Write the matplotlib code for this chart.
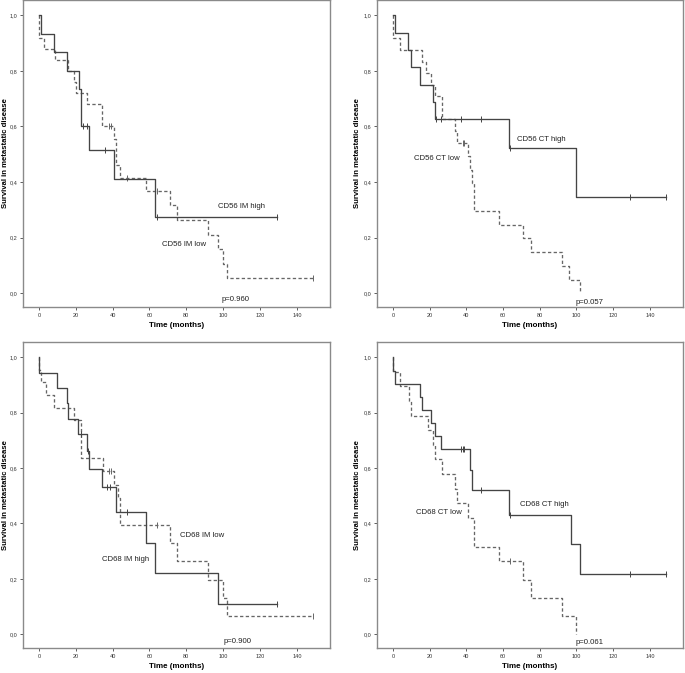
import numpy as np
import matplotlib
matplotlib.use("Agg")
import matplotlib.pyplot as plt

plt.rcParams['font.family'] = ['Liberation Sans', 'DejaVu Sans']

# Kaplan-Meier steps: time (months) and survival after that time
# CD56 IM
cd56_im_high_t = [0, 1, 8, 15, 22, 23, 27, 41, 63, 129]
cd56_im_high_s = [1.0, 0.933, 0.867, 0.8, 0.733, 0.6, 0.514, 0.411, 0.274, 0.274]
cd56_im_high_c = [24, 26, 36, 64, 129]
cd56_im_low_t = [0, 0, 3, 9, 16, 19, 20, 26, 34, 41, 42, 44, 58, 71, 75, 92, 97, 100, 102, 149]
cd56_im_low_s = [1.0, 0.92, 0.88, 0.84, 0.80, 0.76, 0.72, 0.68, 0.60, 0.555, 0.46, 0.415,
                 0.369, 0.316, 0.264, 0.211, 0.158, 0.105, 0.053, 0.053]
cd56_im_low_c = [38, 39, 48, 64, 149]

# CD56 CT
cd56_ct_high_t = [0, 1, 8, 10, 15, 22, 23, 63, 100, 149]
cd56_ct_high_s = [1.0, 0.9375, 0.875, 0.8125, 0.75, 0.6875, 0.625, 0.521, 0.347, 0.347]
cd56_ct_high_c = [23.5, 26, 37, 48, 64, 129, 149]
cd56_ct_low_t = [0, 0, 4, 16, 18, 21, 23, 27, 34, 35, 41, 42, 43, 44, 58, 71, 75, 92, 96, 102]
cd56_ct_low_s = [1.0, 0.917, 0.875, 0.833, 0.792, 0.75, 0.708, 0.625, 0.583, 0.542, 0.494,
                 0.444, 0.395, 0.296, 0.247, 0.198, 0.148, 0.099, 0.049, 0.0]
cd56_ct_low_c = [38, 39]

# CD68 IM
cd68_im_high_t = [0, 0, 10, 15, 16, 21, 26, 27, 34, 42, 58, 63, 97, 129]
cd68_im_high_s = [1.0, 0.944, 0.889, 0.833, 0.778, 0.722, 0.662, 0.595, 0.53, 0.442, 0.331,
                  0.221, 0.11, 0.11]
cd68_im_high_c = [23, 26.5, 37, 38.5, 48, 129]
cd68_im_low_t = [0, 0, 1, 4, 8, 19, 23, 35, 41, 43, 44, 71, 75, 92, 100, 102, 149]
cd68_im_low_s = [1.0, 0.955, 0.909, 0.864, 0.818, 0.773, 0.636, 0.59, 0.54, 0.49, 0.394,
                 0.328, 0.263, 0.197, 0.131, 0.066, 0.066]
cd68_im_low_c = [38, 39, 64, 149]

# CD68 CT
cd68_ct_high_t = [0, 0, 1, 15, 16, 21, 23, 26, 42, 43, 63, 97, 102, 149]
cd68_ct_high_s = [1.0, 0.952, 0.905, 0.857, 0.81, 0.762, 0.714, 0.667, 0.593, 0.519, 0.432,
                  0.324, 0.216, 0.216]
cd68_ct_high_c = [37, 38, 39, 48, 64, 129, 149]
cd68_ct_low_t = [0, 0, 4, 9, 10, 19, 22, 23, 27, 34, 35, 41, 44, 58, 71, 75, 92, 100]
cd68_ct_low_s = [1.0, 0.947, 0.895, 0.842, 0.789, 0.737, 0.684, 0.632, 0.579, 0.526, 0.474,
                 0.421, 0.316, 0.263, 0.197, 0.132, 0.066, 0.0]
cd68_ct_low_c = [64]

panels = [
    dict(pos=[0.0336, 0.5438, 0.4482, 0.4562], ylab_x=-0.047,
         high=(cd56_im_high_t, cd56_im_high_s, cd56_im_high_c),
         low=(cd56_im_low_t, cd56_im_low_s, cd56_im_low_c),
         labels=[("CD56 IM high", 97, 0.31), ("CD56 IM low", 67, 0.176)],
         p=("p=0.960", 99, -0.024)),
    dict(pos=[0.5504, 0.5438, 0.4467, 0.4562], ylab_x=-0.052,
         high=(cd56_ct_high_t, cd56_ct_high_s, cd56_ct_high_c),
         low=(cd56_ct_low_t, cd56_ct_low_s, cd56_ct_low_c),
         labels=[("CD56 CT high", 67.5, 0.553), ("CD56 CT low", 11.5, 0.486)],
         p=("p=0.057", 99.5, -0.034)),
    dict(pos=[0.0336, 0.0371, 0.4482, 0.4547], ylab_x=-0.047,
         high=(cd68_im_high_t, cd68_im_high_s, cd68_im_high_c),
         low=(cd68_im_low_t, cd68_im_low_s, cd68_im_low_c),
         labels=[("CD68 IM low", 76.5, 0.358), ("CD68 IM high", 34.5, 0.268)],
         p=("p=0.900", 100, -0.025)),
    dict(pos=[0.5504, 0.0371, 0.4467, 0.4547], ylab_x=-0.052,
         high=(cd68_ct_high_t, cd68_ct_high_s, cd68_ct_high_c),
         low=(cd68_ct_low_t, cd68_ct_low_s, cd68_ct_low_c),
         labels=[("CD68 CT high", 69, 0.467), ("CD68 CT low", 12.5, 0.44)],
         p=("p=0.061", 99.5, -0.03)),
]

frame_col = '#8a8a8a'
solid_col = '#444444'
dash_col = '#666666'


def surv_at(t, s, when):
    idx = np.searchsorted(np.array(t), when, side='right') - 1
    return np.array(s)[idx]


fig = plt.figure(figsize=(6.85, 6.73), dpi=100)

for pnl in panels:
    ax = fig.add_axes(pnl['pos'])
    for key, col, ls in [('low', dash_col, (0, (2.5, 1.8))), ('high', solid_col, '-')]:
        t, s, c = pnl[key]
        ax.step(t, s, where='post', color=col, lw=0.95, linestyle=ls)
        ax.plot(c, surv_at(t, s, c), linestyle='none', marker='|',
                markersize=4, markeredgewidth=0.7, color=col)
    for txt, x, y in pnl['labels']:
        ax.text(x, y, txt, fontsize=5.6, va='center', ha='left', color='#222222')
    txt, x, y = pnl['p']
    ax.text(x, y, txt, fontsize=5.6, va='center', ha='left', color='#222222')

    ax.set_xlim(-8.6, 158)
    ax.set_ylim(-0.05, 1.055)
    ax.set_xticks(np.arange(0, 141, 20))
    ax.set_yticks(np.arange(0, 1.01, 0.2))
    ax.set_yticklabels([f"{v:.1f}".replace('.', ',') for v in np.arange(0, 1.01, 0.2)])
    ax.tick_params(labelsize=4, length=2.5, width=0.6, color='#444444',
                   labelcolor='#333333', pad=1.5)
    for sp in ax.spines.values():
        sp.set_color(frame_col)
        sp.set_linewidth(1.0)
    ax.set_xlabel('Time (months)', fontsize=5.8, fontweight='bold', labelpad=3)
    ax.set_ylabel('Survival in metastatic disease', fontsize=5.6, fontweight='bold')
    ax.yaxis.set_label_coords(pnl['ylab_x'], 0.5)

fig.savefig('out.png', dpi=100)
